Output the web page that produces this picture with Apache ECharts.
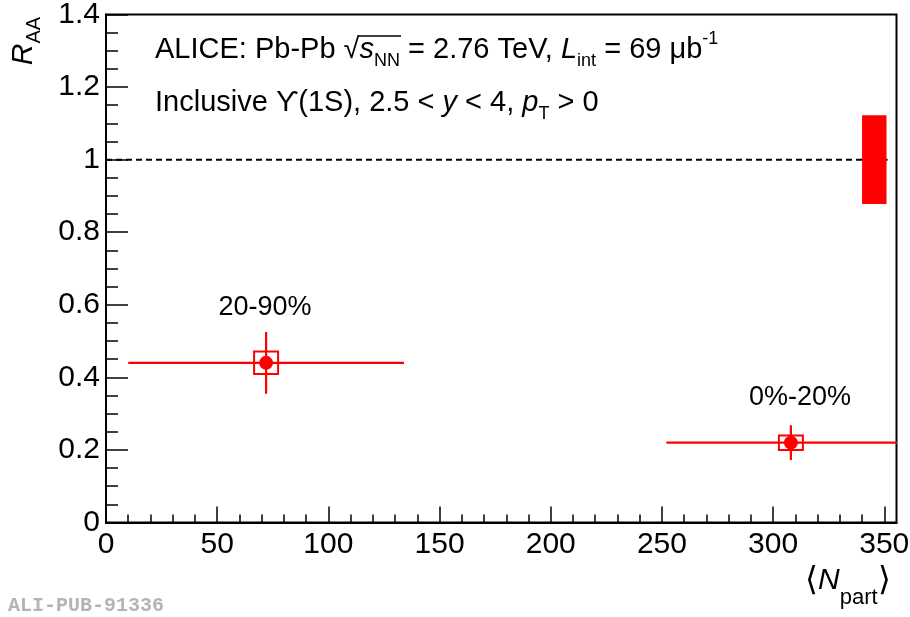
<!DOCTYPE html>
<html>
<head>
<meta charset="utf-8">
<script src="https://cdn.jsdelivr.net/npm/echarts@6/dist/echarts.min.js"></script>
<style>
html,body{margin:0;padding:0;background:#fff;}
#main{width:910px;height:617px;}
</style>
</head>
<body>
<div id="main"></div>
<script>
// ---- data ----
const centralityLabels = ['20-90%', '0%-20%'];
const npart = [72, 308];
const npartErr = [62, 56];
const raa = [0.44, 0.22];
const statErr = [0.085, 0.048];
const sysErr = [0.031, 0.02];
const globalUnc = [1.0, 0.122];      // reference value, global relative uncertainty
const globalBoxX = [340, 351];       // npart span of the global uncertainty box
const refLineX = [0, 351.5];
const xMajorTicks = [0, 50, 100, 150, 200, 250, 300, 350];
const xMinorTicks = [];
for (let v = 10; v < 355; v += 10) { if (v % 50 !== 0) xMinorTicks.push(v); }

const FONT = '"Liberation Sans", Arial, Helvetica, sans-serif';
const RED = '#ff0000';
const TXT = 29, TXTSUB = 18;

const chart = echarts.init(document.getElementById('main'), null, {renderer: 'canvas'});

const pointData = npart.map((x, i) => [x, raa[i], npartErr[i], statErr[i], sysErr[i]]);

function renderPoint(params, api) {
  const x = api.value(0), y = api.value(1), ex = api.value(2), es = api.value(3), esy = api.value(4);
  const c = api.coord([x, y]);
  const l = api.coord([x - ex, y]);
  const r = api.coord([x + ex, y]);
  const t = api.coord([x, y + es]);
  const b = api.coord([x, y - es]);
  const st = api.coord([x, y + esy]);
  const sb = api.coord([x, y - esy]);
  const hw = 12;
  const ls = {stroke: RED, lineWidth: 2.2};
  return {
    type: 'group',
    children: [
      {type: 'line', shape: {x1: l[0], y1: c[1], x2: r[0], y2: c[1]}, style: ls},
      {type: 'line', shape: {x1: c[0], y1: t[1], x2: c[0], y2: b[1]}, style: ls},
      {type: 'rect', shape: {x: c[0] - hw, y: st[1], width: 2 * hw, height: sb[1] - st[1]},
        style: {fill: 'none', stroke: RED, lineWidth: 2}},
      {type: 'circle', shape: {cx: c[0], cy: c[1], r: 7}, style: {fill: RED}}
    ]
  };
}

function renderGlobal(params, api) {
  const p0 = api.coord([api.value(0), api.value(2) + api.value(3)]);
  const p1 = api.coord([api.value(1), api.value(2) - api.value(3)]);
  return {type: 'rect', shape: {x: p0[0], y: p0[1], width: p1[0] - p0[0], height: p1[1] - p0[1]},
    style: {fill: RED}};
}

// text measurement for the square-root bar
const mctx = document.createElement('canvas').getContext('2d');
function tw(str, font) { mctx.font = font; return mctx.measureText(str).width; }
const L1X = 155, L1TOP = 30;
const sqrtStart = L1X + tw('ALICE: Pb-Pb √', TXT + 'px ' + FONT) - 1;
const sqrtEnd = sqrtStart + 1 + tw('s', 'italic ' + TXT + 'px ' + FONT) + tw('NN', TXTSUB + 'px ' + FONT) + 1;

const axisLineStyle = {color: '#000', width: 2};

const option = {
  animation: false,
  backgroundColor: '#fff',
  grid: {left: 106, right: 13.5, top: 14.5, bottom: 94.5, show: true, borderColor: '#000', borderWidth: 2,
    containLabel: false, outerBoundsMode: 'none'},
  xAxis: [
    {type: 'value', min: 0, max: 355.5, position: 'bottom',
      axisLine: {show: true, onZero: false, lineStyle: axisLineStyle},
      axisTick: {show: true, inside: true, length: 16, customValues: xMajorTicks, lineStyle: {color: '#000', width: 1.5}},
      axisLabel: {show: true, customValues: xMajorTicks, fontSize: 30, color: '#000', fontFamily: FONT, margin: 7},
      splitLine: {show: false}, minorTick: {show: false}},
    {type: 'value', min: 0, max: 355.5, position: 'bottom', offset: 0,
      axisLine: {show: false},
      axisTick: {show: true, inside: true, length: 8, customValues: xMinorTicks, lineStyle: {color: '#000', width: 1.5}},
      axisLabel: {show: false}, splitLine: {show: false}}
  ],
  yAxis: {type: 'value', min: 0, max: 1.4, interval: 0.2,
    axisLine: {show: true, onZero: false, lineStyle: axisLineStyle},
    axisTick: {show: true, inside: true, length: 22, lineStyle: {color: '#000', width: 1.5}},
    minorTick: {show: true, splitNumber: 4, length: 12, lineStyle: {color: '#000', width: 1.5}},
    axisLabel: {fontSize: 30, color: '#000', fontFamily: FONT, margin: 6},
    splitLine: {show: false}, minorSplitLine: {show: false}},
  series: [
    {type: 'line', data: refLineX.map(x => [x, globalUnc[0]]), symbol: 'none', silent: true,
      lineStyle: {color: '#000', width: 2, type: [6, 4]}, z: 1},
    {type: 'custom', renderItem: renderGlobal, clip: true, z: 2,
      data: [[globalBoxX[0], globalBoxX[1], globalUnc[0], globalUnc[1]]]},
    {type: 'custom', renderItem: renderPoint, clip: true, z: 3, data: pointData}
  ],
  graphic: [
    {type: 'text', left: L1X, top: L1TOP, z: 10, style: {
      text: 'ALICE: Pb-Pb {sq|√}{it|s}{sub|NN} = 2.76 TeV, {it|L}{sub|int} = 69 μb{sup|-1}',
      font: TXT + 'px ' + FONT, fill: '#000', lineHeight: 40,
      rich: {
        sq: {fontSize: TXT, fontFamily: FONT, lineHeight: 40},
        it: {fontSize: TXT, fontStyle: 'italic', fontFamily: FONT, lineHeight: 40},
        sub: {fontSize: TXTSUB, fontFamily: FONT, lineHeight: 19, verticalAlign: 'bottom'},
        sup: {fontSize: TXTSUB, fontFamily: FONT, lineHeight: 19, verticalAlign: 'top'}
      }}},
    {type: 'line', z: 10, shape: {x1: sqrtStart, y1: L1TOP + 6, x2: sqrtEnd, y2: L1TOP + 6},
      style: {stroke: '#000', lineWidth: 1.5}},
    {type: 'text', left: L1X, top: 83, z: 10, style: {
      text: 'Inclusive ϒ(1S), 2.5 < {it|y} < 4, {it|p}{sub|T} > 0',
      font: TXT + 'px ' + FONT, fill: '#000', lineHeight: 40,
      rich: {
        it: {fontSize: TXT, fontStyle: 'italic', fontFamily: FONT, lineHeight: 40},
        sub: {fontSize: TXTSUB, fontFamily: FONT, lineHeight: 19, verticalAlign: 'bottom'}
      }}},
    {type: 'text', x: 265, y: 308, z: 10, style: {text: centralityLabels[0], font: '27px ' + FONT, fill: '#000',
      align: 'center', verticalAlign: 'middle'}},
    {type: 'text', x: 800, y: 398, z: 10, style: {text: centralityLabels[1], font: '27px ' + FONT, fill: '#000',
      align: 'center', verticalAlign: 'middle'}},
    {type: 'text', x: 24, y: 41, rotation: Math.PI / 2, z: 10, style: {
      text: '{it|R}{sub|AA}', align: 'center', verticalAlign: 'middle', lineHeight: 40,
      rich: {
        it: {fontSize: 30, fontStyle: 'italic', fontFamily: FONT, lineHeight: 40},
        sub: {fontSize: 20, fontFamily: FONT, lineHeight: 20, verticalAlign: 'bottom'}
      }}},
    {type: 'text', left: 805, top: 553, z: 10, style: {
      text: '{br|⟨}{it|N}{sub|part}{br|⟩}', fill: '#000', lineHeight: 56,
      rich: {
        br: {fontSize: 33, fontFamily: FONT, lineHeight: 56},
        it: {fontSize: 30, fontStyle: 'italic', fontFamily: FONT, lineHeight: 56},
        sub: {fontSize: 22, fontFamily: FONT, lineHeight: 22, verticalAlign: 'bottom'}
      }}},
    {type: 'text', left: 8, top: 596, z: 10, style: {text: 'ALI-PUB-91336',
      font: 'bold 20px "Liberation Mono", "Courier New", monospace', fill: '#b4b4b4'}}
  ]
};
chart.setOption(option);
</script>
</body>
</html>
